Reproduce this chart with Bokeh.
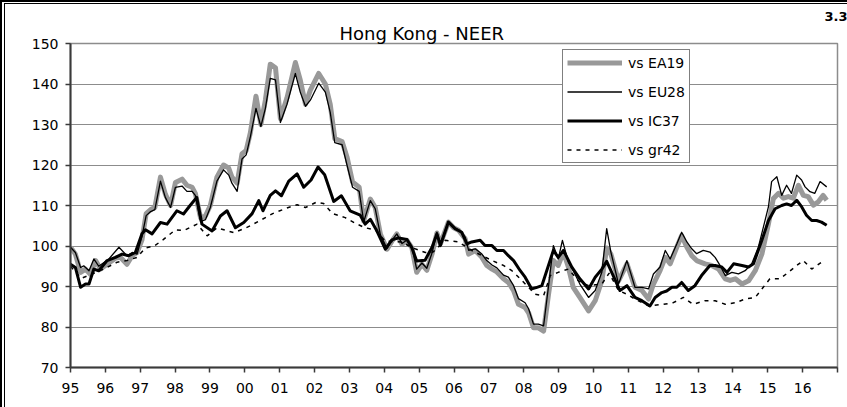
from bokeh.plotting import figure
from bokeh.models import FixedTicker, Legend, LegendItem, Title, Range1d
from bokeh.embed import file_html
from bokeh.resources import INLINE

FONT = "DejaVu Sans"

# ---- axes ----
year_ticks = list(range(1995, 2018))
year_labels = ["95", "96", "97", "98", "99", "00", "01", "02", "03", "04", "05",
               "06", "07", "08", "09", "10", "11", "12", "13", "14", "15", "16", ""]
y_ticks = [70, 80, 90, 100, 110, 120, 130, 140, 150]

# ---- series: vs EA19 ----
ea19_t = [1995.00, 1995.14, 1995.29, 1995.43, 1995.57, 1995.72, 1995.86, 1996.05, 1996.29, 1996.43,
          1996.62, 1996.77, 1996.91, 1997.05, 1997.17, 1997.30, 1997.42, 1997.58, 1997.72, 1997.87,
          1998.01, 1998.20, 1998.34, 1998.49, 1998.58, 1998.73, 1998.87, 1999.01, 1999.20, 1999.39,
          1999.54, 1999.63, 1999.78, 1999.92, 2000.04, 2000.16, 2000.32, 2000.46, 2000.59, 2000.73,
          2000.88, 2001.02, 2001.21, 2001.45, 2001.59, 2001.74, 2001.88, 2002.12, 2002.31, 2002.45,
          2002.58, 2002.79, 2002.93, 2003.09, 2003.28, 2003.41, 2003.60, 2003.74, 2003.89, 2004.08,
          2004.22, 2004.36, 2004.51, 2004.65, 2004.79, 2004.93, 2005.08, 2005.22, 2005.37, 2005.51,
          2005.61, 2005.84, 2005.99, 2006.13, 2006.32, 2006.42, 2006.61, 2006.80, 2006.94, 2007.09,
          2007.23, 2007.42, 2007.56, 2007.71, 2007.85, 2008.04, 2008.14, 2008.28, 2008.42, 2008.57,
          2008.71, 2008.85, 2008.99, 2009.14, 2009.28, 2009.42, 2009.61, 2009.86, 2010.05, 2010.24,
          2010.38, 2010.50, 2010.72, 2010.96, 2011.19, 2011.39, 2011.58, 2011.72, 2011.91, 2012.06,
          2012.20, 2012.39, 2012.53, 2012.68, 2012.82, 2012.96, 2013.20, 2013.39, 2013.59, 2013.78,
          2013.92, 2014.07, 2014.26, 2014.45, 2014.64, 2014.83, 2015.02, 2015.16, 2015.31, 2015.45,
          2015.59, 2015.73, 2015.88, 2016.02, 2016.16, 2016.31, 2016.45, 2016.59, 2016.69]
ea19_v = [99.7, 98.0, 93.5, 94.3, 93.0, 96.4, 94.3, 95.5, 97.0, 97.2,
          95.5, 97.6, 98.4, 101.5, 108.0, 109.0, 109.5, 117.0, 112.8, 110.0,
          115.7, 116.5, 115.0, 114.5, 113.0, 107.0, 107.4, 110.0, 117.0, 120.0,
          119.2, 117.0, 115.5, 122.8, 123.6, 128.0, 137.0, 130.0, 136.0, 144.9,
          144.0, 131.5, 136.6, 145.3, 141.0, 135.0, 138.5, 142.6, 140.0, 135.0,
          126.5, 125.8, 122.0, 115.8, 114.5, 106.2, 111.6, 109.5, 102.9, 99.2,
          101.2, 103.0, 100.4, 101.4, 99.6, 93.5, 95.5, 94.0, 98.0, 103.2,
          100.5, 105.9, 104.5, 103.9, 101.8, 98.0, 98.9, 97.2, 95.2, 94.3,
          93.6, 91.9, 91.0, 89.0, 85.6, 84.8, 83.5, 79.8, 79.8, 79.0,
          88.0, 96.4, 95.2, 98.5, 94.8, 89.8, 87.3, 84.0, 86.5, 91.4,
          99.5, 98.0, 91.4, 95.6, 89.8, 89.0, 86.9, 90.6, 93.9, 97.2,
          95.6, 99.7, 102.6, 99.7, 97.6, 96.4, 95.6, 95.2, 94.3, 91.9,
          91.5, 91.9, 90.6, 91.4, 93.9, 98.0, 105.5, 111.7, 113.0, 111.8,
          112.2, 111.8, 115.0, 112.5, 112.2, 110.1, 110.9, 112.5, 111.3]

# ---- series: vs EU28 ----
eu28_t = [1995.00, 1995.14, 1995.29, 1995.38, 1995.53, 1995.67, 1995.81, 1996.10, 1996.39, 1996.62,
          1996.77, 1996.91, 1997.05, 1997.17, 1997.30, 1997.42, 1997.58, 1997.72, 1997.87, 1998.01,
          1998.20, 1998.34, 1998.49, 1998.58, 1998.73, 1998.87, 1999.01, 1999.20, 1999.39, 1999.54,
          1999.63, 1999.78, 1999.92, 2000.04, 2000.16, 2000.32, 2000.46, 2000.59, 2000.73, 2000.88,
          2001.02, 2001.21, 2001.45, 2001.59, 2001.74, 2001.88, 2002.12, 2002.31, 2002.45, 2002.58,
          2002.79, 2002.93, 2003.09, 2003.28, 2003.41, 2003.60, 2003.74, 2003.89, 2004.08, 2004.22,
          2004.36, 2004.51, 2004.65, 2004.79, 2004.93, 2005.08, 2005.22, 2005.37, 2005.51, 2005.61,
          2005.84, 2005.99, 2006.13, 2006.32, 2006.42, 2006.61, 2006.80, 2006.94, 2007.09, 2007.23,
          2007.42, 2007.56, 2007.71, 2007.85, 2008.04, 2008.14, 2008.28, 2008.42, 2008.57, 2008.71,
          2008.85, 2008.99, 2009.11, 2009.28, 2009.42, 2009.61, 2009.86, 2010.05, 2010.24, 2010.38,
          2010.50, 2010.72, 2010.96, 2011.19, 2011.39, 2011.58, 2011.72, 2011.91, 2012.06, 2012.20,
          2012.39, 2012.53, 2012.68, 2012.82, 2012.96, 2013.15, 2013.34, 2013.49, 2013.63, 2013.78,
          2013.97, 2014.16, 2014.35, 2014.54, 2014.73, 2015.02, 2015.11, 2015.26, 2015.40, 2015.54,
          2015.68, 2015.83, 2015.97, 2016.07, 2016.21, 2016.35, 2016.50, 2016.69]
eu28_v = [99.7, 98.4, 94.7, 95.1, 93.9, 96.8, 95.0, 96.8, 99.7, 97.6,
          98.4, 98.0, 102.4, 107.5, 108.5, 109.0, 116.0, 112.0, 109.5, 114.5,
          114.8, 113.5, 113.5, 112.5, 106.0, 106.5, 109.5, 116.0, 118.8, 117.5,
          115.5, 113.5, 121.5, 122.5, 127.0, 134.0, 129.5, 134.0, 141.4, 141.0,
          130.5, 135.0, 142.6, 138.0, 134.5, 136.0, 140.2, 138.0, 133.0, 125.5,
          125.0, 120.0, 114.5, 113.5, 106.0, 111.2, 109.2, 102.7, 99.4, 101.4,
          103.0, 100.6, 101.5, 99.8, 94.3, 95.8, 94.5, 98.3, 103.4, 100.7,
          105.9, 104.5, 104.0, 102.2, 98.9, 99.3, 98.0, 96.4, 95.3, 94.6,
          92.8, 92.3, 90.2, 87.0, 86.0, 84.5, 80.7, 80.7, 80.3, 90.0,
          100.1, 96.8, 101.4, 96.0, 93.9, 90.6, 87.3, 89.0, 93.5, 104.3,
          98.5, 90.6, 96.4, 89.8, 89.8, 89.4, 93.1, 94.8, 98.9, 96.8,
          100.5, 103.4, 101.0, 99.3, 98.1, 98.9, 98.5, 97.2, 95.2, 92.7,
          93.5, 93.1, 93.9, 95.6, 99.7, 109.7, 115.9, 117.1, 112.5, 115.0,
          113.0, 117.5, 116.3, 114.6, 113.4, 113.0, 115.9, 114.6]

# ---- series: vs IC37 ----
ic37_t = [1995.00, 1995.14, 1995.29, 1995.43, 1995.53, 1995.67, 1995.81, 1996.05, 1996.29, 1996.48,
          1996.67, 1996.86, 1997.05, 1997.15, 1997.34, 1997.58, 1997.77, 1998.05, 1998.24, 1998.43,
          1998.62, 1998.77, 1999.06, 1999.30, 1999.49, 1999.73, 1999.97, 2000.21, 2000.40, 2000.52,
          2000.73, 2000.88, 2001.05, 2001.26, 2001.50, 2001.69, 2001.90, 2002.10, 2002.29, 2002.55,
          2002.77, 2003.02, 2003.31, 2003.45, 2003.60, 2003.79, 2004.03, 2004.22, 2004.41, 2004.65,
          2004.79, 2004.93, 2005.17, 2005.37, 2005.51, 2005.61, 2005.84, 2006.03, 2006.22, 2006.37,
          2006.51, 2006.75, 2006.89, 2007.09, 2007.23, 2007.42, 2007.56, 2007.71, 2007.90, 2008.04,
          2008.23, 2008.38, 2008.52, 2008.66, 2008.85, 2008.99, 2009.14, 2009.38, 2009.61, 2009.86,
          2010.05, 2010.24, 2010.38, 2010.55, 2010.76, 2010.96, 2011.19, 2011.39, 2011.62, 2011.77,
          2011.96, 2012.10, 2012.25, 2012.39, 2012.53, 2012.72, 2012.91, 2013.10, 2013.34, 2013.49,
          2013.68, 2013.83, 2014.02, 2014.26, 2014.45, 2014.59, 2014.83, 2015.02, 2015.21, 2015.40,
          2015.54, 2015.68, 2015.83, 2015.97, 2016.11, 2016.26, 2016.40, 2016.54, 2016.69]
ic37_v = [95.5, 94.7, 89.8, 90.6, 90.6, 94.3, 93.9, 96.4, 97.2, 98.0,
          97.6, 98.4, 103.0, 104.0, 103.0, 105.8, 105.4, 108.7, 107.9, 110.0,
          112.0, 105.4, 103.7, 107.4, 108.7, 104.5, 105.8, 108.0, 111.2, 108.7,
          112.5, 113.6, 112.4, 116.0, 117.8, 114.5, 116.3, 119.5, 117.6, 111.0,
          112.4, 108.7, 107.6, 105.4, 106.6, 103.7, 99.2, 101.5, 102.0, 101.6,
          99.6, 96.3, 96.5, 99.7, 103.0, 100.1, 105.9, 104.3, 103.4, 100.5,
          101.0, 101.4, 100.1, 100.1, 98.9, 98.9, 97.6, 96.4, 93.9, 92.3,
          89.4, 89.8, 90.2, 93.9, 98.9, 97.2, 98.9, 94.8, 91.9, 89.4,
          92.3, 94.3, 96.2, 93.0, 89.0, 90.2, 87.3, 86.5, 85.2, 87.3,
          88.5, 88.9, 89.8, 89.8, 91.0, 89.0, 90.2, 92.7, 95.2, 95.2,
          94.8, 93.5, 95.6, 95.2, 94.8, 95.6, 101.4, 106.3, 109.2, 110.0,
          110.4, 110.0, 111.3, 109.7, 107.6, 106.3, 106.3, 105.9, 105.1]

# ---- series: vs gr42 ----
gr42_t = [1995.00, 1995.30, 1995.60, 1996.00, 1996.34, 1996.62, 1996.91, 1997.15, 1997.40, 1997.65,
          1998.01, 1998.25, 1998.63, 1998.92, 1999.20, 1999.68, 2000.04, 2000.42, 2000.80, 2001.18,
          2001.50, 2001.74, 2002.05, 2002.26, 2002.52, 2002.88, 2003.17, 2003.45, 2003.74, 2004.03,
          2004.51, 2004.79, 2005.18, 2005.40, 2005.75, 2006.13, 2006.51, 2007.09, 2007.42, 2007.66,
          2007.90, 2008.33, 2008.57, 2008.76, 2008.99, 2009.28, 2009.57, 2009.86, 2010.24, 2010.45,
          2010.72, 2010.96, 2011.19, 2011.58, 2012.01, 2012.29, 2012.58, 2012.86, 2013.20, 2013.49,
          2013.78, 2014.07, 2014.35, 2014.64, 2014.87, 2015.06, 2015.35, 2015.59, 2015.83, 2016.02,
          2016.26, 2016.54]
gr42_v = [95.0, 92.0, 93.0, 94.5, 96.0, 96.4, 97.2, 99.5, 100.0, 101.5,
          104.0, 103.8, 105.4, 102.5, 104.5, 103.3, 104.5, 106.2, 108.0, 109.3,
          110.2, 109.5, 110.8, 110.5, 108.0, 107.0, 105.6, 104.5, 104.0, 101.2,
          101.0, 99.6, 98.4, 98.5, 101.4, 101.0, 98.9, 96.4, 95.2, 93.9,
          91.9, 88.1, 87.7, 92.7, 93.5, 94.3, 91.4, 90.2, 90.6, 93.3,
          89.0, 88.1, 86.9, 85.2, 85.6, 86.0, 87.3, 85.6, 86.5, 86.5,
          85.6, 86.0, 86.9, 87.3, 89.8, 91.9, 91.9, 93.5, 95.2, 96.4,
          94.3, 96.0]

series_labels = ["vs EA19", "vs EU28", "vs IC37", "vs gr42"]
title_text = "Hong Kong - NEER"
corner_text = "3.3"

p = figure(width=847, height=407, output_backend="svg", toolbar_location=None,
           x_range=Range1d(1995, 2017), y_range=Range1d(70, 150),
           min_border_left=70, min_border_right=10, min_border_top=43, min_border_bottom=40,
           background_fill_color="white", border_fill_alpha=0)
# place the chart at the window's top-left corner; the outer double frame (top/left) is the page box
p.styles = {
    "position": "absolute", "left": "0px", "top": "0px",
    "background": ("linear-gradient(#000,#000) 0 0/100% 2px no-repeat, "
                   "linear-gradient(#000,#000) 4px 3px/100% 1px no-repeat, "
                   "linear-gradient(#000,#000) 0 0/2px 100% no-repeat, "
                   "linear-gradient(#000,#000) 4px 3px/1px 100% no-repeat, #fff"),
}

# page number (outermost in the top panel), right-aligned to the window edge
p.title.text = corner_text
p.title.align = "right"
p.title.offset = -10
p.title.standoff = 0
p.title.text_font = FONT
p.title.text_font_size = "13px"
p.title.text_font_style = "bold"
p.title.text_color = "black"
# chart title (nearest the frame), centred on the whole chart
p.add_layout(Title(text=title_text, align="left", offset=269, standoff=0,
                   text_font=FONT, text_font_size="18px", text_font_style="normal",
                   text_color="black"), "above")

# axes
p.xaxis.ticker = FixedTicker(ticks=year_ticks)
p.xaxis.major_label_overrides = {t: l for t, l in zip(year_ticks, year_labels)}
p.yaxis.ticker = FixedTicker(ticks=y_ticks)
for ax in (p.xaxis[0], p.yaxis[0]):
    ax.axis_line_color = "#3a3a3a"
    ax.axis_line_width = 2
    ax.major_tick_line_color = "#3a3a3a"
    ax.major_tick_line_width = 1.5
    ax.major_tick_in = 0
    ax.major_tick_out = 5
    ax.minor_tick_in = 0
    ax.minor_tick_out = 0
    ax.major_label_text_font = FONT
    ax.major_label_text_font_size = "14px"
    ax.major_label_text_color = "black"
p.xaxis.major_label_standoff = 10
p.yaxis.major_label_standoff = 7

p.xgrid.visible = False
p.ygrid.ticker = FixedTicker(ticks=y_ticks)
p.ygrid.grid_line_color = "#8c8c8c"
p.ygrid.grid_line_width = 1
p.outline_line_color = "#8c8c8c"
p.outline_line_width = 1.5

r1 = p.line(ea19_t, ea19_v, line_color="#999999", line_width=5, line_join="round")
r2 = p.line(eu28_t, eu28_v, line_color="black", line_width=1.3, line_join="round")
r3 = p.line(ic37_t, ic37_v, line_color="black", line_width=3, line_join="round")
r4 = p.line(gr42_t, gr42_v, line_color="black", line_width=1.5, line_dash="4 5")

legend = Legend(items=[LegendItem(label=lab, renderers=[r]) for lab, r in
                       zip(series_labels, [r1, r2, r3, r4])],
                location=(492, 204), orientation="vertical",
                border_line_color="black", border_line_width=1,
                background_fill_color="white", background_fill_alpha=1,
                padding=4, spacing=12, margin=0,
                glyph_width=55, glyph_height=17, label_height=17, label_standoff=6,
                label_text_font=FONT, label_text_font_size="14px", label_text_color="black")
p.add_layout(legend)

open("out.html", "w").write(file_html(p, INLINE))
